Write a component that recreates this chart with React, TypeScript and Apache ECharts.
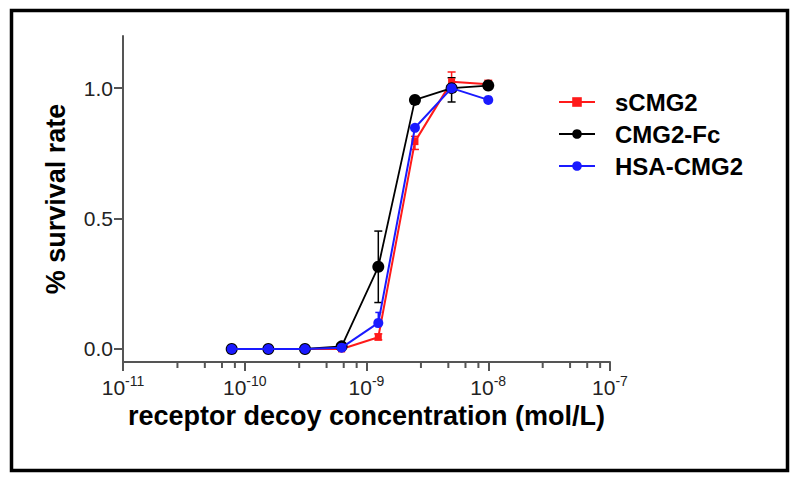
import React, { useEffect, useRef } from "react";
import * as echarts from "echarts";

const concentrations = [7.8125e-11, 1.5625e-10, 3.125e-10, 6.25e-10, 1.25e-9, 2.5e-9, 5e-9, 1e-8];
const sCMG2 = [0, 0, 0, 0.0, 0.045, 0.795, 1.025, 1.015];
const cmg2Fc = [0, 0, 0, 0.01, 0.315, 0.955, 1.0, 1.01];
const hsaCMG2 = [0, 0, 0, 0.005, 0.1, 0.848, 1.0, 0.955];

// error bars: [concentration, low, high]
const sCMG2Err = [[1.25e-9, 0.035, 0.058], [2.5e-9, 0.765, 0.815], [5e-9, 0.99, 1.062], [1e-8, 1.005, 1.03]];
const cmg2FcErr = [[1.25e-9, 0.178, 0.452], [5e-9, 0.947, 1.04]];
const hsaCMG2Err = [[1.25e-9, 0.085, 0.14], [2.5e-9, 0.838, 0.858]];

const xMinorMultipliers = [2.8, 4.7, 6.5, 8.3];
const xDecades = [-11, -10, -9, -8];
const yTicks = [0, 0.5, 1.0];

const FONT = "'Liberation Sans', Arial, sans-serif";
const RED = "#ff1a1a";
const BLUE = "#1a1aff";
const BLACK = "#000000";
const AXIS = "#555555";

function errSeries(name: string, data: number[][], color: string, cap: number) {
  return {
    type: "custom",
    name: name + "-err",
    silent: true,
    clip: false,
    z: 1,
    data,
    renderItem: (params: any, api: any) => {
      const x = api.value(0);
      const top = api.coord([x, api.value(2)]);
      const bot = api.coord([x, api.value(1)]);
      const st = { stroke: color, lineWidth: 1.5 };
      return {
        type: "group",
        children: [
          { type: "line", shape: { x1: top[0], y1: top[1], x2: bot[0], y2: bot[1] }, style: st },
          { type: "line", shape: { x1: top[0] - cap, y1: top[1], x2: top[0] + cap, y2: top[1] }, style: st },
          { type: "line", shape: { x1: bot[0] - cap, y1: bot[1], x2: bot[0] + cap, y2: bot[1] }, style: st },
        ],
      };
    },
  };
}

export default function App() {
  const ref = useRef<HTMLDivElement>(null);
  useEffect(() => {
    if (!ref.current) return;
    const chart = echarts.init(ref.current, null, { renderer: "svg" });
    const minorVals: number[] = [];
    xDecades.forEach((d) => xMinorMultipliers.forEach((m) => minorVals.push(m * Math.pow(10, d))));
    const yMin = -0.05;
    const mk = (vals: number[]) => concentrations.map((c, i) => [c, vals[i]]);
    chart.setOption({
      animation: false,
      backgroundColor: "#ffffff",
      graphic: [
        {
          type: "rect",
          shape: { x: 11.5, y: 10.5, width: 776, height: 460 },
          style: { fill: "none", stroke: "#000", lineWidth: 3.5 },
          silent: true,
        },
      ],
      grid: { left: 123, top: 36, width: 487, height: 326, containLabel: false },
      legend: {
        orient: "vertical",
        left: 553,
        top: 85,
        itemWidth: 36,
        itemHeight: 12,
        itemGap: 8,
        data: ["sCMG2", "CMG2-Fc", "HSA-CMG2"],
        textStyle: { fontFamily: FONT, fontSize: 24, fontWeight: "bold", color: "#000", padding: [0, 0, 0, 15] },
      },
      xAxis: {
        type: "log",
        logBase: 10,
        min: 1e-11,
        max: 1e-7,
        name: "receptor decoy concentration (mol/L)",
        nameLocation: "middle",
        nameGap: 40,
        nameTextStyle: { fontFamily: FONT, fontSize: 27, fontWeight: "bold", color: "#000" },
        axisLine: { onZero: false, lineStyle: { color: AXIS, width: 2 } },
        axisTick: { length: 9, lineStyle: { color: AXIS, width: 2 } },
        splitLine: { show: false },
        axisLabel: {
          margin: 12,
          formatter: (v: number) => `{a|10}{b|${Math.round(Math.log10(v))}}`,
          rich: {
            a: { fontFamily: FONT, fontSize: 21, color: "#222" },
            b: { fontFamily: FONT, fontSize: 14, color: "#222", padding: [0, 0, 12, 0] },
          },
        },
      },
      yAxis: {
        type: "value",
        min: yMin,
        max: 1.2,
        name: "% survival rate",
        nameLocation: "middle",
        nameGap: 54,
        nameTextStyle: { fontFamily: FONT, fontSize: 27, fontWeight: "bold", color: "#000" },
        axisLine: { show: true, lineStyle: { color: AXIS, width: 2 } },
        axisTick: { show: true, length: 9, customValues: yTicks, lineStyle: { color: AXIS, width: 2 } },
        splitLine: { show: false },
        axisLabel: {
          margin: 10,
          customValues: yTicks,
          formatter: (v: number) => v.toFixed(1),
          fontFamily: FONT,
          fontSize: 21,
          color: "#222",
        },
      },
      series: [
        {
          type: "custom",
          name: "minor-ticks",
          silent: true,
          clip: false,
          z: 0,
          data: minorVals.map((v) => [v, yMin]),
          renderItem: (params: any, api: any) => {
            const p = api.coord([api.value(0), yMin]);
            return {
              type: "line",
              shape: { x1: p[0], y1: p[1], x2: p[0], y2: p[1] + 6 },
              style: { stroke: AXIS, lineWidth: 2 },
            };
          },
        },
        errSeries("sCMG2", sCMG2Err, RED, 4),
        errSeries("CMG2-Fc", cmg2FcErr, BLACK, 4),
        errSeries("HSA-CMG2", hsaCMG2Err, BLUE, 3),
        {
          type: "line",
          name: "sCMG2",
          data: mk(sCMG2),
          symbol: "rect",
          symbolSize: 7,
          itemStyle: { color: RED },
          lineStyle: { color: RED, width: 2 },
          z: 2,
        },
        {
          type: "line",
          name: "CMG2-Fc",
          data: mk(cmg2Fc),
          symbol: "circle",
          symbolSize: 12,
          itemStyle: { color: BLACK },
          lineStyle: { color: BLACK, width: 1.8 },
          z: 3,
        },
        {
          type: "line",
          name: "HSA-CMG2",
          data: mk(hsaCMG2),
          symbol: "circle",
          symbolSize: 10,
          itemStyle: { color: BLUE },
          lineStyle: { color: BLUE, width: 2 },
          z: 4,
        },
      ],
    });
    return () => chart.dispose();
  }, []);
  return (
    <div
      ref={ref}
      style={{ position: "fixed", left: 0, top: 0, width: 798, height: 480, background: "#fff" }}
    />
  );
}
